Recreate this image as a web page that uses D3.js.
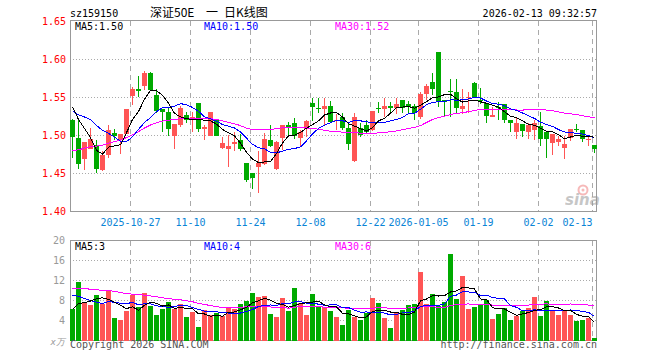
<!DOCTYPE html>
<html>
<head>
<meta charset="utf-8">
<script src="https://cdn.jsdelivr.net/npm/d3@7"></script>
<style>
body { margin: 0; background: #fff; }
text { font-family: "DejaVu Sans Mono", "Liberation Mono", monospace; font-size: 10px; }
</style>
</head>
<body>
<svg width="660" height="360"></svg>
<script>
// trading days shown on the chart
var dates = [
  '2025-10-13','2025-10-14','2025-10-15','2025-10-16','2025-10-17','2025-10-20','2025-10-21','2025-10-22','2025-10-23','2025-10-24',
  '2025-10-27','2025-10-28','2025-10-29','2025-10-30','2025-10-31',
  '2025-11-03','2025-11-04','2025-11-05','2025-11-06','2025-11-07','2025-11-10','2025-11-11','2025-11-12','2025-11-13','2025-11-14',
  '2025-11-17','2025-11-18','2025-11-19','2025-11-20','2025-11-21','2025-11-24','2025-11-25','2025-11-26','2025-11-27','2025-11-28',
  '2025-12-01','2025-12-02','2025-12-03','2025-12-04','2025-12-05','2025-12-08','2025-12-09','2025-12-10','2025-12-11','2025-12-12',
  '2025-12-15','2025-12-16','2025-12-17','2025-12-18','2025-12-19','2025-12-22','2025-12-23','2025-12-24','2025-12-25','2025-12-26',
  '2025-12-29','2025-12-30','2025-12-31',
  '2026-01-05','2026-01-06','2026-01-07','2026-01-08','2026-01-09','2026-01-12','2026-01-13','2026-01-14','2026-01-15','2026-01-16',
  '2026-01-19','2026-01-20','2026-01-21','2026-01-22','2026-01-23','2026-01-26','2026-01-27','2026-01-28','2026-01-29','2026-01-30',
  '2026-02-02','2026-02-03','2026-02-04','2026-02-05','2026-02-06','2026-02-09','2026-02-10','2026-02-11','2026-02-12','2026-02-13'
]

var open = [
  1.521,1.497,1.469,1.482,1.487,1.454,1.474,1.503,1.494,1.502,
  1.552,1.561,1.565,1.582,1.553,1.535,1.531,1.499,1.514,1.527,
  1.520,1.543,1.508,1.500,1.520,1.483,1.482,1.489,1.494,1.464,
  1.451,1.459,1.462,1.494,1.456,1.497,1.514,1.516,1.497,1.509,
  1.543,1.536,1.535,1.539,1.519,1.524,1.510,1.467,1.510,1.514,
  1.507,1.536,1.535,1.539,1.536,1.547,1.541,1.539,1.524,1.554,
  1.571,1.610,1.547,1.558,1.557,1.535,1.550,1.569,1.547,1.543,
  1.525,1.538,1.541,1.521,1.505,1.515,1.504,1.507,1.512,1.505,
  1.490,1.492,1.484,1.497,1.508,1.507,1.494,1.487
]
var high = [
  1.522,1.522,1.491,1.510,1.494,1.479,1.514,1.508,1.502,1.535,
  1.564,1.578,1.585,1.584,1.561,1.535,1.536,1.515,1.539,1.531,
  1.531,1.543,1.514,1.531,1.521,1.498,1.501,1.505,1.502,1.464,
  1.451,1.479,1.503,1.514,1.493,1.514,1.518,1.523,1.507,1.521,
  1.550,1.550,1.550,1.546,1.528,1.529,1.515,1.529,1.516,1.520,
  1.532,1.544,1.550,1.544,1.550,1.547,1.546,1.542,1.557,1.568,
  1.582,1.610,1.547,1.574,1.574,1.561,1.557,1.571,1.562,1.543,
  1.538,1.544,1.541,1.521,1.524,1.515,1.517,1.521,1.531,1.505,
  1.502,1.500,1.500,1.508,1.515,1.507,1.498,1.487
]
var low = [
  1.470,1.456,1.454,1.482,1.451,1.453,1.471,1.494,1.476,1.502,
  1.540,1.551,1.560,1.559,1.529,1.505,1.500,1.482,1.511,1.516,
  1.504,1.505,1.494,1.500,1.500,1.482,1.459,1.479,1.480,1.439,
  1.430,1.425,1.461,1.485,1.455,1.481,1.500,1.495,1.486,1.498,
  1.519,1.529,1.514,1.517,1.507,1.507,1.481,1.465,1.498,1.502,
  1.506,1.529,1.524,1.528,1.528,1.529,1.529,1.520,1.522,1.547,
  1.553,1.538,1.525,1.525,1.528,1.528,1.530,1.549,1.542,1.517,
  1.525,1.520,1.517,1.505,1.496,1.498,1.496,1.494,1.486,1.471,
  1.474,1.486,1.469,1.493,1.505,1.492,1.486,1.477
]
var close = [
  1.498,1.462,1.491,1.495,1.456,1.474,1.507,1.500,1.502,1.535,
  1.561,1.559,1.582,1.560,1.532,1.531,1.508,1.515,1.536,1.521,
  1.525,1.508,1.511,1.531,1.500,1.490,1.486,1.491,1.482,1.441,
  1.444,1.464,1.495,1.486,1.492,1.514,1.510,1.500,1.505,1.519,
  1.537,1.535,1.539,1.518,1.521,1.510,1.489,1.524,1.501,1.505,
  1.532,1.535,1.539,1.536,1.541,1.536,1.538,1.529,1.555,1.565,
  1.561,1.544,1.544,1.557,1.536,1.539,1.551,1.550,1.546,1.526,
  1.527,1.537,1.521,1.516,1.516,1.506,1.514,1.516,1.496,1.496,
  1.502,1.495,1.489,1.508,1.507,1.496,1.495,1.482
]
// volume, in 万
var volume = [
  6.3,11.7,7.5,7.1,9.1,7.3,10.1,4.5,4.1,5.9,
  9.1,6.7,9.5,6.9,5.1,6.3,7.7,6.3,7.3,4.7,
  5.7,2.7,6.1,5.1,5.5,4.9,6.7,6.3,7.3,7.9,
  9.5,8.7,8.9,5.3,4.7,8.5,5.9,10.5,7.6,5.1,
  9.3,6.9,6.7,5.9,4.7,3.1,6.2,4.7,4.1,5.5,
  8.5,7.5,4.5,2.5,5.5,6.1,7.1,7.3,13.7,7.3,
  9.3,6.9,7.7,17.3,8.3,12.9,6.3,6.7,7.3,8.1,
  4.3,5.3,6.5,4.1,4.9,5.9,6.5,8.7,4.9,7.9,
  5.9,5.1,6.1,5.1,3.9,4.1,4.5,0.5
]

// 29 sessions before the first shown day, needed for the moving averages
var prevClose = [
  1.420,1.430,1.425,1.440,1.435,1.430,1.445,1.440,1.435,1.440,
  1.445,1.440,1.440,1.445,1.460,1.475,1.490,1.500,1.510,1.524,
  1.515,1.520,1.530,1.530,1.5415,1.545,1.550,1.555,1.5405
]
var prevVolume = [
  9,10,12,11,13,10,9,12,11,14,
  10,11,12,10,13,11,12,10,11,11,
  13,12.5,11,12,10.5,5.8,6.5,5.53,6.9
]

var priceTicks = [1.40, 1.45, 1.50, 1.55, 1.60, 1.65]
var volumeTicks = [4, 8, 12, 16, 20]
var dateTicks = ['2025-10-27','2025-11-10','2025-11-24','2025-12-08','2025-12-22','2026-01-05','2026-01-19','2026-02-02','2026-02-13']
var dateTickLabels = ['2025-10-27','11-10','11-24','12-08','12-22','2026-01-05','01-19','02-02','02-13']

var RED = '#ff5555', GREEN = '#00aa00'
var maColors = {5: '#000000', 10: '#0000ff', 30: '#ff00ff'}

function movingAvg(values, history, n) {
    var all = history.concat(values)
    return values.map(function(d, i) {
        var end = history.length + i + 1
        return d3.mean(all.slice(end - n, end))
    })
}

var svg = d3.select('svg')

var x = d3.scaleLinear().domain([0, dates.length]).range([70, 70 + dates.length * 6])
var y = d3.scaleLinear().domain([1.40, 1.65]).range([211.5, 21.5])
var yv = d3.scaleLinear().domain([0, 20]).range([340.5, 240.5])
var left = 70, right = 597

var data = dates.map(function(d, i) {
    return {date: d, i: i, o: open[i], h: high[i], l: low[i], c: close[i], v: volume[i], up: close[i] >= open[i]}
})

// grid
svg.append('g').selectAll('line')
    .data(priceTicks.slice(1, -1))
    .enter().append('line')
    .attr('x1', left).attr('x2', right)
    .attr('y1', function(d){ return Math.round(y(d)) + 0.5 })
    .attr('y2', function(d){ return Math.round(y(d)) + 0.5 })
    .attr('stroke', '#aaa').attr('stroke-dasharray', '1,2')

svg.append('g').selectAll('line')
    .data(volumeTicks.slice(0, -1))
    .enter().append('line')
    .attr('x1', left).attr('x2', right)
    .attr('y1', function(d){ return yv(d) })
    .attr('y2', function(d){ return yv(d) })
    .attr('stroke', '#aaa').attr('stroke-dasharray', '1,2')

dateTicks.forEach(function(t) {
    var xx = x(dates.indexOf(t)) + 0.5
    svg.append('line').attr('x1', xx).attr('x2', xx).attr('y1', 21).attr('y2', 211)
        .attr('stroke', '#aaa').attr('stroke-dasharray', '5,4')
    svg.append('line').attr('x1', xx).attr('x2', xx).attr('y1', 241).attr('y2', 340)
        .attr('stroke', '#aaa').attr('stroke-dasharray', '5,4')
})

// sina watermark
var wm = svg.append('g').attr('opacity', 0.55)
wm.append('circle').attr('cx', 583).attr('cy', 190).attr('r', 4.5)
    .attr('fill', 'none').attr('stroke', '#f08080').attr('stroke-width', 2)
wm.append('circle').attr('cx', 583).attr('cy', 190).attr('r', 1.5).attr('fill', '#f08080')
wm.append('text').attr('x', 565).attr('y', 205)
    .style('font-family', 'DejaVu Sans').style('font-size', '15px')
    .style('font-weight', 'bold').style('font-style', 'italic')
    .attr('fill', '#999').text('sina')

// frames
svg.append('rect').attr('x', 70.5).attr('y', 20.5).attr('width', 526).attr('height', 191)
    .attr('fill', 'none').attr('stroke', '#999')
svg.append('rect').attr('x', 70.5).attr('y', 240.5).attr('width', 526).attr('height', 100)
    .attr('fill', 'none').attr('stroke', '#999')

// candles
var candles = svg.append('g').attr('shape-rendering', 'crispEdges')
    .selectAll('g').data(data).enter().append('g')

candles.append('line')
    .attr('x1', function(d){ return x(d.i) + 2.5 })
    .attr('x2', function(d){ return x(d.i) + 2.5 })
    .attr('y1', function(d){ return y(d.h) })
    .attr('y2', function(d){ return y(d.l) })
    .attr('stroke', function(d){ return d.up ? RED : GREEN })

candles.append('rect')
    .attr('x', function(d){ return x(d.i) })
    .attr('width', 5)
    .attr('y', function(d){ return y(Math.max(d.o, d.c)) })
    .attr('height', function(d){ return Math.max(1, y(Math.min(d.o, d.c)) - y(Math.max(d.o, d.c))) })
    .attr('fill', function(d){ return d.up ? RED : GREEN })

// volume bars
svg.append('g').attr('shape-rendering', 'crispEdges')
    .selectAll('rect').data(data).enter().append('rect')
    .attr('x', function(d){ return x(d.i) })
    .attr('width', 5)
    .attr('y', function(d){ return yv(d.v) })
    .attr('height', function(d){ return yv(0) - yv(d.v) })
    .attr('fill', function(d){ return d.up ? RED : GREEN })

// moving averages
var priceMA = {}, volMA = {}
;[30, 10, 5].forEach(function(n) {
    priceMA[n] = movingAvg(close, prevClose, n)
    volMA[n] = movingAvg(volume, prevVolume, n)
    var lineP = d3.line().x(function(d, i){ return x(i) + 2.5 }).y(function(d){ return y(d) })
    var lineV = d3.line().x(function(d, i){ return x(i) + 2.5 }).y(function(d){ return yv(d) })
    svg.append('path').attr('d', lineP(priceMA[n])).attr('fill', 'none')
        .attr('stroke', maColors[n]).attr('stroke-width', 1).attr('shape-rendering', 'crispEdges')
    svg.append('path').attr('d', lineV(volMA[n])).attr('fill', 'none')
        .attr('stroke', maColors[n]).attr('stroke-width', 1).attr('shape-rendering', 'crispEdges')
})

// axes
var yAxis = svg.append('g').attr('transform', 'translate(70,0)')
    .call(d3.axisLeft(y).tickValues(priceTicks).tickFormat(d3.format('.2f')).tickSize(0).tickPadding(4))
yAxis.select('.domain').remove()
yAxis.selectAll('text').attr('fill', '#ff0000').style('font-size', '10px').style('font-family', '"DejaVu Sans Mono", monospace')

var vAxis = svg.append('g').attr('transform', 'translate(70,0)')
    .call(d3.axisLeft(yv).tickValues(volumeTicks).tickSize(0).tickPadding(5))
vAxis.select('.domain').remove()
vAxis.selectAll('text').attr('fill', '#999').style('font-size', '10px').style('font-family', '"DejaVu Sans Mono", monospace')

var xAxis = svg.append('g').attr('transform', 'translate(0,211)')
    .call(d3.axisBottom(x)
        .tickValues(dateTicks.map(function(t){ return dates.indexOf(t) }))
        .tickFormat(function(d, k){ return dateTickLabels[k] })
        .tickSize(0).tickPadding(8))
xAxis.select('.domain').remove()
xAxis.selectAll('text').attr('fill', '#0a84d6').style('font-size', '10px').style('font-family', '"DejaVu Sans Mono", monospace')
    .attr('text-anchor', function(d, k){ return k === dateTicks.length - 1 ? 'end' : 'middle' })

svg.append('text').attr('x', 65).attr('y', 345).attr('text-anchor', 'end')
    .attr('fill', '#999').style('font-size', '9px').style('font-style', 'italic').text('x万')

// titles
svg.append('text').attr('x', 70).attr('y', 16.5).text('sz159150')
var titleParts = [['深证50E', 150], ['一', 206], ['日K线图', 224]]
titleParts.forEach(function(p) {
    svg.append('text').attr('x', p[1]).attr('y', 17)
        .style('font-family', '"Noto Sans CJK SC"').style('font-size', '12px')
        .text(p[0])
})
svg.append('text').attr('x', 597).attr('y', 16.5).attr('text-anchor', 'end').text('2026-02-13 09:32:57')

// legends
var last = dates.length - 1
svg.append('text').attr('x', 75).attr('y', 30).attr('fill', maColors[5]).text('MA5:' + priceMA[5][last].toFixed(2))
svg.append('text').attr('x', 204).attr('y', 30).attr('fill', maColors[10]).text('MA10:' + priceMA[10][last].toFixed(2))
svg.append('text').attr('x', 335).attr('y', 30).attr('fill', maColors[30]).text('MA30:' + priceMA[30][last].toFixed(2))

svg.append('text').attr('x', 75).attr('y', 250).attr('fill', maColors[5]).text('MA5:' + Math.floor(volMA[5][last]))
svg.append('text').attr('x', 204).attr('y', 250).attr('fill', maColors[10]).text('MA10:' + Math.floor(volMA[10][last]))
svg.append('text').attr('x', 335).attr('y', 250).attr('fill', maColors[30]).text('MA30:' + Math.floor(volMA[30][last]))

// footer
svg.append('text').attr('x', 70).attr('y', 348).attr('fill', '#555').text('Copyright 2026 SINA.COM')
svg.append('text').attr('x', 597).attr('y', 348).attr('text-anchor', 'end').attr('fill', '#555').text('http://finance.sina.com.cn')
</script>
</body>
</html>
